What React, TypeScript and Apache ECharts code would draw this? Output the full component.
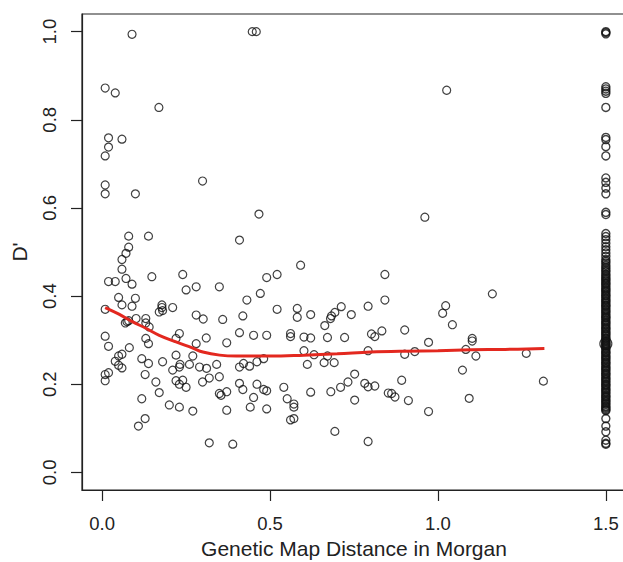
import React, { useEffect, useRef } from "react";
import * as echarts from "echarts";

const xTicks = [0, 0.5, 1.0, 1.5];
const yTicks = [0, 0.2, 0.4, 0.6, 0.8, 1.0];

// scattered points (distance, D')
const scatterX = [
  0.089, 0.447, 0.459, 0.009, 0.039, 0.169, 0.019, 0.059, 0.019, 0.009, 0.009, 0.009, 0.099, 0.299, 0.467, 1.026, 0.961,
  0.079, 0.138, 0.409, 0.079, 0.071, 0.059, 0.059, 0.071, 0.089, 0.019, 0.039, 0.148, 0.240, 0.250, 0.280, 0.349, 0.431,
  0.049, 0.059, 0.099, 0.089, 0.009, 0.069, 0.074, 0.079, 0.101, 0.130, 0.130, 0.140, 0.178, 0.178, 0.170, 0.180, 0.210,
  0.280, 0.301, 0.359, 0.419, 0.409, 0.009, 0.019, 0.130, 0.138, 0.081, 0.230, 0.220, 0.280, 0.310, 0.371, 0.059, 0.049,
  0.039, 0.049, 0.059, 0.118, 0.138, 0.180, 0.220, 0.270, 0.210, 0.230, 0.232, 0.260, 0.290, 0.311, 0.341, 0.409, 0.421,
  0.009, 0.019, 0.009, 0.128, 0.160, 0.170, 0.220, 0.230, 0.240, 0.250, 0.299, 0.319, 0.349, 0.409, 0.419, 0.349, 0.354,
  0.371, 0.118, 0.200, 0.230, 0.270, 0.371, 0.128, 0.108, 0.319, 0.389,
  0.591, 0.490, 0.521, 0.842, 0.471, 0.842, 0.521, 0.581, 0.581, 0.621, 0.712, 0.693, 0.683, 0.680, 0.742, 0.792, 0.663,
  0.451, 0.490, 0.561, 0.561, 0.601, 0.621, 0.671, 0.722, 0.802, 0.812, 0.833, 0.901, 0.972, 0.601, 0.631, 0.671, 0.792,
  0.901, 0.931, 0.439, 0.461, 0.481, 0.611, 0.661, 0.691, 0.752, 0.892, 0.461, 0.481, 0.490, 0.541, 0.621, 0.681, 0.710,
  0.732, 0.782, 0.792, 0.812, 0.852, 0.862, 0.872, 0.912, 0.451, 0.441, 0.490, 0.551, 0.571, 0.571, 0.561, 0.571, 0.752,
  0.972, 0.693, 0.792,
  1.162, 1.023, 1.014, 1.043, 1.102, 1.102, 1.083, 1.113, 1.263, 1.073, 1.314, 1.093,
];
const scatterY = [
  0.994, 1.0, 1.0, 0.872, 0.861, 0.828, 0.759, 0.756, 0.738, 0.718, 0.652, 0.632, 0.632, 0.661, 0.586, 0.867, 0.579,
  0.536, 0.536, 0.527, 0.511, 0.497, 0.483, 0.461, 0.440, 0.427, 0.433, 0.433, 0.444, 0.449, 0.414, 0.421, 0.421, 0.391,
  0.397, 0.380, 0.395, 0.377, 0.370, 0.339, 0.342, 0.344, 0.349, 0.349, 0.339, 0.330, 0.380, 0.374, 0.364, 0.367, 0.374,
  0.357, 0.348, 0.347, 0.355, 0.317, 0.309, 0.286, 0.304, 0.292, 0.283, 0.315, 0.304, 0.292, 0.305, 0.294, 0.268, 0.264,
  0.252, 0.243, 0.237, 0.258, 0.247, 0.251, 0.266, 0.264, 0.232, 0.239, 0.245, 0.245, 0.239, 0.236, 0.245, 0.239, 0.247,
  0.222, 0.226, 0.208, 0.222, 0.205, 0.181, 0.208, 0.200, 0.209, 0.193, 0.205, 0.214, 0.217, 0.202, 0.188, 0.179, 0.175,
  0.183, 0.167, 0.153, 0.148, 0.139, 0.141, 0.122, 0.105, 0.067, 0.064,
  0.470, 0.442, 0.449, 0.449, 0.406, 0.391, 0.370, 0.372, 0.352, 0.358, 0.376, 0.363, 0.355, 0.349, 0.358, 0.377, 0.333,
  0.311, 0.311, 0.315, 0.308, 0.307, 0.305, 0.306, 0.306, 0.314, 0.308, 0.321, 0.323, 0.295, 0.276, 0.267, 0.264, 0.276,
  0.268, 0.274, 0.241, 0.251, 0.258, 0.245, 0.249, 0.249, 0.223, 0.209, 0.200, 0.188, 0.185, 0.193, 0.182, 0.183, 0.193,
  0.205, 0.202, 0.194, 0.196, 0.180, 0.179, 0.171, 0.163, 0.170, 0.148, 0.144, 0.167, 0.155, 0.148, 0.119, 0.122, 0.164,
  0.138, 0.093, 0.070,
  0.405, 0.378, 0.361, 0.335, 0.304, 0.298, 0.279, 0.264, 0.270, 0.232, 0.207, 0.168,
];

// pairs beyond the cap, all plotted at distance 1.5
const cappedX = 1.5;
const cappedY = [
  1.0, 0.998, 0.995, 0.875, 0.87, 0.865, 0.86, 0.828, 0.76, 0.755, 0.739, 0.718, 0.668, 0.658, 0.645, 0.632, 0.59, 0.585,
  0.542, 0.535, 0.528, 0.52, 0.512, 0.505, 0.498, 0.49, 0.483, 0.475, 0.47, 0.462, 0.455, 0.45, 0.443, 0.437, 0.43, 0.425,
  0.418, 0.412, 0.405, 0.4, 0.393, 0.387, 0.38, 0.375, 0.368, 0.362, 0.355, 0.35, 0.343, 0.337, 0.33, 0.325, 0.318, 0.312,
  0.305, 0.3, 0.294, 0.292, 0.288, 0.282, 0.275, 0.27, 0.263, 0.257, 0.25, 0.245, 0.238, 0.232, 0.225, 0.22, 0.213, 0.207,
  0.2, 0.195, 0.188, 0.182, 0.175, 0.17, 0.163, 0.157, 0.15, 0.145, 0.14, 0.122, 0.105, 0.092, 0.073, 0.066, 0.064,
];
// the solid, heavily overlapped part of the capped column
const cappedDenseY = [
  0.479, 0.466, 0.458, 0.447, 0.44, 0.434, 0.428, 0.421, 0.415, 0.409, 0.402, 0.396, 0.39, 0.384, 0.378, 0.371, 0.365,
  0.358, 0.352, 0.346, 0.34, 0.334, 0.327, 0.321, 0.315, 0.309, 0.303, 0.297, 0.29, 0.285, 0.279, 0.272, 0.266, 0.26,
  0.254, 0.248, 0.241, 0.235, 0.229, 0.223, 0.216, 0.21, 0.204, 0.198, 0.191, 0.185, 0.179, 0.172, 0.166, 0.16, 0.154,
  0.148, 0.142,
];
const cappedBigY = [0.292];

// smoothed (lowess) curve
const smoothX = [0.009, 0.05, 0.09, 0.13, 0.17, 0.22, 0.27, 0.3, 0.35, 0.4, 0.5, 0.6, 0.7, 0.8, 0.9, 1.0, 1.1, 1.2, 1.317];
const smoothY = [0.374, 0.359, 0.342, 0.327, 0.311, 0.296, 0.282, 0.273, 0.266, 0.264, 0.264, 0.266, 0.269, 0.273, 0.275, 0.276, 0.278, 0.279, 0.281];

export default function App() {
  const ref = useRef<HTMLDivElement>(null);
  useEffect(() => {
    if (!ref.current) return;
    const chart = echarts.init(ref.current, null, { renderer: "svg" });
    const font = "Liberation Sans, Arial, Helvetica, sans-serif";
    const pts: [number, number][] = scatterX.map((x, i) => [x, scatterY[i]]);
    const capPts: [number, number][] = cappedY.concat(cappedDenseY).map((y) => [cappedX, y]);
    const bigPts: [number, number][] = cappedBigY.map((y) => [cappedX, y]);
    const linePts: [number, number][] = smoothX.map((x, i) => [x, smoothY[i]]);
    const symbolStyle = { color: "rgba(0,0,0,0)", borderColor: "#111", borderWidth: 1.2 };
    chart.setOption({
      animation: false,
      backgroundColor: "#fff",
      grid: {
        left: 82,
        top: 14,
        width: 544,
        height: 476,
        show: true,
        containLabel: false,
        outerBoundsMode: "none",
        borderColor: "#222",
        borderWidth: 1.2,
        backgroundColor: "rgba(0,0,0,0)",
      },
      xAxis: {
        type: "value",
        min: -0.06,
        max: 1.56,
        name: "Genetic Map Distance in Morgan",
        nameLocation: "middle",
        nameGap: 48,
        nameTextStyle: { fontFamily: font, fontSize: 21, color: "#222" },
        axisLine: { show: true, onZero: false, lineStyle: { color: "#222", width: 1.2 } },
        axisTick: { show: true, inside: false, length: 11, customValues: xTicks, lineStyle: { color: "#222", width: 1.2 } },
        axisLabel: {
          show: true,
          customValues: xTicks,
          margin: 24,
          fontFamily: font,
          fontSize: 18.5,
          color: "#222",
          formatter: (v: number) => v.toFixed(1),
        },
        splitLine: { show: false },
      },
      yAxis: {
        type: "value",
        min: -0.04,
        max: 1.04,
        name: "D'",
        nameLocation: "middle",
        nameRotate: 90,
        nameGap: 52,
        nameTextStyle: { fontFamily: font, fontSize: 21, color: "#222" },
        axisLine: { show: true, onZero: false, lineStyle: { color: "#222", width: 1.2 } },
        axisTick: { show: true, inside: false, length: 11, customValues: yTicks, lineStyle: { color: "#222", width: 1.2 } },
        axisLabel: {
          show: true,
          customValues: yTicks,
          rotate: 90,
          margin: 23,
          fontFamily: font,
          fontSize: 18.5,
          color: "#222",
          formatter: (v: number) => v.toFixed(1),
        },
        splitLine: { show: false },
      },
      series: [
        {
          type: "scatter",
          data: pts,
          symbol: "circle",
          symbolSize: 8,
          itemStyle: symbolStyle,
          silent: true,
        },
        {
          type: "scatter",
          data: capPts,
          symbol: "circle",
          symbolSize: 8,
          itemStyle: { color: "rgba(0,0,0,0)", borderColor: "#111", borderWidth: 1.4 },
          silent: true,
        },
        {
          type: "scatter",
          data: bigPts,
          symbol: "circle",
          symbolSize: 12,
          itemStyle: symbolStyle,
          silent: true,
        },
        {
          type: "line",
          data: linePts,
          smooth: 0.4,
          showSymbol: false,
          lineStyle: { color: "#e3281f", width: 3 },
          silent: true,
          z: 5,
        },
      ],
    });
    return () => chart.dispose();
  }, []);
  return <div ref={ref} style={{ position: "fixed", left: 0, top: 0, width: 623, height: 562 }} />;
}
